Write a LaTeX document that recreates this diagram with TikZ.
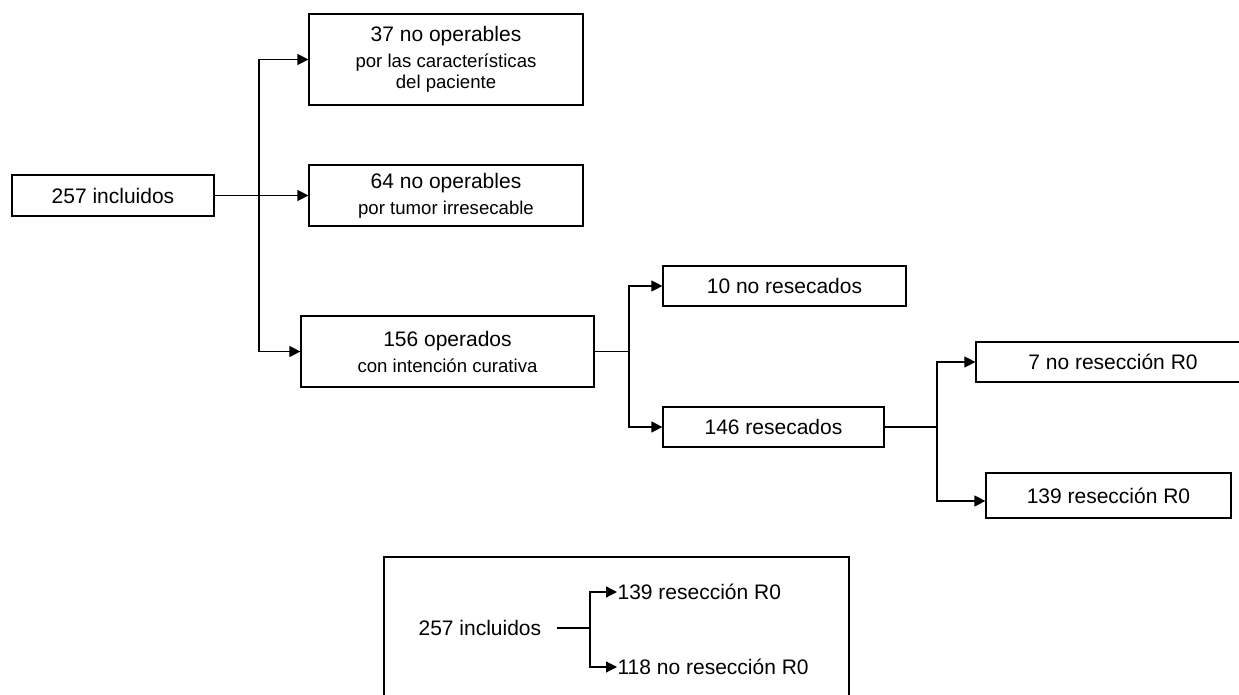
\documentclass[tikz,border=0pt]{standalone}
\usepackage{fontspec}
\setmainfont{Liberation Sans}
\usetikzlibrary{arrows.meta,positioning}

\newcommand{\subf}{\fontsize{9.3}{11}\selectfont}

\begin{document}
\begin{tikzpicture}[x=0.5pt,y=-0.5pt,>={Triangle[length=5.5pt,width=5.5pt]},
                    line width=0.6pt]
  \tikzstyle{every node}=[font=\fontsize{10.5}{13}\selectfont]
  \tikzstyle{box}=[draw,rectangle,inner sep=0pt,align=center]
  \useasboundingbox (0,0) rectangle (1239,695);

  \node[box,minimum width=101pt,minimum height=20.5pt]   (inc)   at (113,195.5)   {257 incluidos};
  \node[box,minimum width=137pt,minimum height=45.5pt]   (car)   at (446,59.5)    {37 no operables\\{\subf por las características}\\[-2.5pt]{\subf del paciente}};
  \node[box,minimum width=137pt,minimum height=30.5pt]   (tum)   at (446,195.5)   {64 no operables\\{\subf por tumor irresecable}};
  \node[box,minimum width=146.5pt,minimum height=35.5pt] (ope)   at (447.5,351.5) {156 operados\\{\subf con intención curativa}};
  \node[box,minimum width=121.5pt,minimum height=20pt]   (nores) at (784.5,286)   {10 no resecados};
  \node[box,minimum width=110.5pt,minimum height=20pt]   (res)   at (773.5,427)   {146 resecados};
  \node[box,minimum width=137pt,minimum height=20pt]     (nrz)   at (1113,362)    {7 no resección R0};
  \node[box,minimum width=122.5pt,minimum height=22.5pt] (rz)    at (1108.5,495.5) {139 resección R0};

  \coordinate (j1) at (259,195.5);
  \coordinate (j2) at (629,351.5);
  \coordinate (j3) at (937,427);

  \draw (inc) -- (j1);
  \draw[->] (j1) |- (car);
  \draw[->] (j1) -- (tum);
  \draw[->] (j1) |- (ope);
  \draw (ope) -- (j2);
  \draw[->] (j2) |- (nores);
  \draw[->] (j2) |- (res);
  \draw (res) -- (j3);
  \draw[->] (j3) |- (nrz);
  \draw[->] (j3) |- ([yshift=-2.75pt]rz.west);

  % summary
  \node[box,minimum width=232.5pt,minimum height=76.5pt] (frame) at (616.5,633.5) {};
  \node[anchor=west,inner sep=0pt] (tot) at (418,628) {257 incluidos};
  \node[anchor=west,inner sep=0pt] (si)  at (617,592) {139 resección R0};
  \node[anchor=west,inner sep=0pt] (no)  at (617,667) {118 no resección R0};
  \coordinate (j4) at (590,628);
  \draw ([xshift=7.5pt]tot.east) -- (j4);
  \draw[->] (j4) |- (si);
  \draw[->] (j4) |- (no);
\end{tikzpicture}
\end{document}
